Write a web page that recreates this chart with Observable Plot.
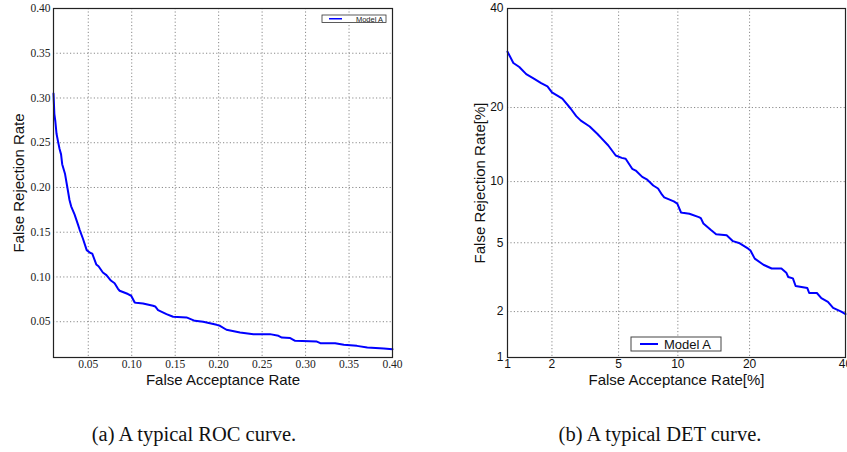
<!DOCTYPE html>
<html>
<head>
<meta charset="utf-8">
<script src="https://cdn.jsdelivr.net/npm/d3@7"></script>
<script src="https://cdn.jsdelivr.net/npm/@observablehq/plot@0.6"></script>
<style>
  html, body { margin: 0; padding: 0; background: white; }
  #page { position: relative; width: 847px; height: 452px; overflow: hidden; background: white; }
  .chart { position: absolute; top: 0; }
  .caption { position: absolute; top: 423px; font-family: "Liberation Serif", serif; font-size: 20.5px; color: #111; text-align: center; width: 400px; white-space: nowrap; }
</style>
</head>
<body>
<div id="page">
  <div id="roc" class="chart" style="left:0px"></div>
  <div id="det" class="chart" style="left:420px"></div>
  <div class="caption" style="left:-6px">(a) A typical ROC curve.</div>
  <div class="caption" style="left:460px">(b) A typical DET curve.</div>
</div>
<script>
// ---- data (shared by both panels; rates as fractions) ----
const far = [0.0100, 0.0110, 0.0121, 0.0135, 0.0153, 0.0170, 0.0187, 0.0200, 0.0233, 0.0263,
             0.0284, 0.0303, 0.0342, 0.0380, 0.0400, 0.0438, 0.0482, 0.0520, 0.0546, 0.0592,
             0.0618, 0.0668, 0.0709, 0.0760, 0.0803, 0.0840, 0.0861, 0.0957, 0.0994, 0.1034,
             0.1050, 0.1130, 0.1245, 0.1270, 0.1303, 0.1400, 0.1476, 0.1630, 0.1727, 0.1822,
             0.1977, 0.2015, 0.2090, 0.2246, 0.2400, 0.2590, 0.2688, 0.2727, 0.2823, 0.2880,
             0.3130, 0.3170, 0.3340, 0.3440, 0.3590, 0.3710, 0.3900, 0.4000];
const frr = [0.305, 0.282, 0.274, 0.260, 0.251, 0.243, 0.237, 0.226, 0.215, 0.198,
             0.186, 0.179, 0.170, 0.159, 0.153, 0.143, 0.130, 0.127, 0.126, 0.114,
             0.112, 0.105, 0.102, 0.096, 0.093, 0.087, 0.0846, 0.0809, 0.0790, 0.0715,
             0.0712, 0.0704, 0.0678, 0.0670, 0.0630, 0.0585, 0.0555, 0.0548, 0.0510, 0.0499,
             0.0465, 0.0454, 0.0410, 0.0379, 0.0361, 0.0361, 0.0342, 0.0323, 0.0317, 0.0286,
             0.0278, 0.0260, 0.0260, 0.0242, 0.0230, 0.0211, 0.0200, 0.0193];
const rocTicks = [0.05, 0.10, 0.15, 0.20, 0.25, 0.30, 0.35, 0.40];
const detTicks = [1, 2, 5, 10, 20, 40];
const seriesName = "Model A";
const rocXLabel = "False Acceptance Rate";
const rocYLabel = "False Rejection Rate";
const detXLabel = "False Acceptance Rate[%]";
const detYLabel = "False Rejection Rate[%]";

const data = far.map((f, i) => ({far: f, frr: frr[i]}));

// inverse standard normal CDF (Acklam) for the DET (normal deviate) axes
function probit(p) {
  const a=[-3.969683028665376e+01,2.209460984245205e+02,-2.759285104469687e+02,1.383577518672690e+02,-3.066479806614716e+01,2.506628277459239e+00];
  const b=[-5.447609879822406e+01,1.615858368580409e+02,-1.556989798598866e+02,6.680131188771972e+01,-1.328068155288572e+01];
  const c=[-7.784894002430293e-03,-3.223964580411365e-01,-2.400758277161838e+00,-2.549732539343734e+00,4.374664141464968e+00,2.938163982698783e+00];
  const d=[7.784695709041462e-03,3.224671290700398e-01,2.445134137142996e+00,3.754408661907416e+00];
  const pl = 0.02425, ph = 1 - pl;
  let q, r;
  if (p < pl) { q = Math.sqrt(-2*Math.log(p)); return (((((c[0]*q+c[1])*q+c[2])*q+c[3])*q+c[4])*q+c[5])/((((d[0]*q+d[1])*q+d[2])*q+d[3])*q+1); }
  if (p <= ph) { q = p - 0.5; r = q*q; return (((((a[0]*r+a[1])*r+a[2])*r+a[3])*r+a[4])*r+a[5])*q/(((((b[0]*r+b[1])*r+b[2])*r+b[3])*r+b[4])*r+1); }
  q = Math.sqrt(-2*Math.log(1-p)); return -(((((c[0]*q+c[1])*q+c[2])*q+c[3])*q+c[4])*q+c[5])/((((d[0]*q+d[1])*q+d[2])*q+d[3])*q+1);
}

const gridStyle = {stroke: "#8a8a8a", strokeOpacity: 1, strokeWidth: 1, strokeDasharray: "1.2,2.2"};
const blue = "#0000ff";
const sans = "Liberation Sans, Arial, sans-serif";

// ---- (a) ROC ----
const roc = Plot.plot({
  width: 420, height: 395,
  marginLeft: 53, marginRight: 28, marginTop: 8, marginBottom: 38,
  style: {fontFamily: "Liberation Serif, serif", fontSize: "11.5px", color: "#222", background: "white"},
  x: {domain: [0.01, 0.40], ticks: rocTicks, tickFormat: d3.format(".2f"), tickSize: 0, tickPadding: 2, label: null},
  y: {domain: [0.01, 0.40], ticks: rocTicks, tickFormat: d3.format(".2f"), tickSize: 0, tickPadding: 3, label: null},
  marks: [
    Plot.ruleX(rocTicks, {x: d => d, ...gridStyle}),
    Plot.ruleY(rocTicks, {y: d => d, ...gridStyle}),
    Plot.line(data, {x: "far", y: "frr", stroke: blue, strokeWidth: 2}),
    Plot.frame({stroke: "#222", strokeWidth: 1.2}),
    Plot.text([rocXLabel], {frameAnchor: "bottom", dy: 23, textAnchor: "middle", lineAnchor: "middle", fontFamily: sans, fontSize: 15, fill: "#111"}),
    Plot.text([rocYLabel], {frameAnchor: "left", dx: -34, rotate: -90, textAnchor: "middle", lineAnchor: "middle", fontFamily: sans, fontSize: 15, fill: "#111"})
  ]
});
document.getElementById("roc").append(roc);

// small legend box (upper right)
{
  const g = d3.select(roc).append("g").attr("transform", "translate(322,15)");
  g.append("rect").attr("width", 64).attr("height", 7.5).attr("fill", "white").attr("stroke", "#333").attr("stroke-width", 0.8);
  g.append("line").attr("x1", 7).attr("x2", 20).attr("y1", 3.75).attr("y2", 3.75).attr("stroke", blue).attr("stroke-width", 1.5);
  g.append("text").attr("x", 61).attr("y", 6.5).attr("text-anchor", "end").attr("font-family", sans).attr("font-size", 7.5).attr("fill", "#222").text(seriesName);
}

// ---- (b) DET ----
const pTicks = detTicks.map(t => probit(t / 100));
const labelOf = v => { const t = detTicks.find(t => Math.abs(probit(t / 100) - v) < 1e-9); return t === undefined ? "" : String(t); };
const det = Plot.plot({
  width: 427, height: 395,
  marginLeft: 87, marginRight: 2, marginTop: 8, marginBottom: 38,
  style: {fontFamily: sans, fontSize: "12px", color: "#111", background: "white", overflow: "visible"},
  x: {domain: [probit(0.01), probit(0.40)], ticks: pTicks, tickFormat: labelOf, tickSize: 0, tickPadding: 2, label: null},
  y: {domain: [probit(0.01), probit(0.40)], ticks: pTicks, tickFormat: labelOf, tickSize: 0, tickPadding: 4, label: null},
  marks: [
    Plot.ruleX(pTicks, {x: d => d, ...gridStyle}),
    Plot.ruleY(pTicks, {y: d => d, ...gridStyle}),
    Plot.line(data, {x: d => probit(d.far), y: d => probit(d.frr), stroke: blue, strokeWidth: 2}),
    Plot.frame({stroke: "#222", strokeWidth: 1.2}),
    Plot.text([detXLabel], {frameAnchor: "bottom", dy: 23, textAnchor: "middle", lineAnchor: "middle", fontFamily: sans, fontSize: 15, fill: "#111"}),
    Plot.text([detYLabel], {frameAnchor: "left", dx: -27, rotate: -90, textAnchor: "middle", lineAnchor: "middle", fontFamily: sans, fontSize: 15, fill: "#111"})
  ]
});
document.getElementById("det").append(det);

// legend box (bottom centre)
{
  const g = d3.select(det).append("g").attr("transform", "translate(211,337)");
  g.append("rect").attr("width", 90).attr("height", 14).attr("fill", "white").attr("stroke", "#444").attr("stroke-width", 1);
  g.append("line").attr("x1", 9).attr("x2", 27).attr("y1", 7).attr("y2", 7).attr("stroke", blue).attr("stroke-width", 2);
  g.append("text").attr("x", 33).attr("y", 11.5).attr("text-anchor", "start").attr("font-family", sans).attr("font-size", 13).attr("fill", "#111").text(seriesName);
}
</script>
</body>
</html>
